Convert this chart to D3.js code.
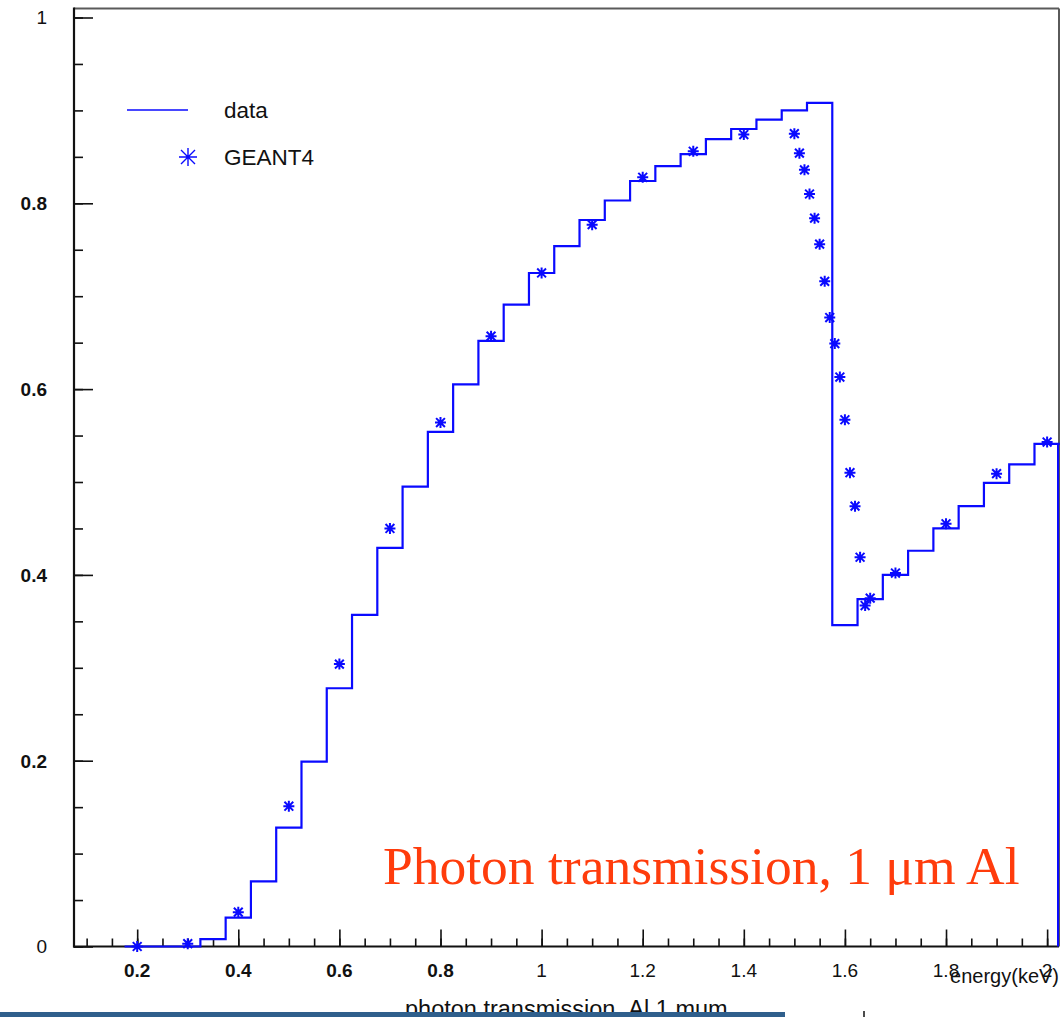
<!DOCTYPE html>
<html>
<head>
<meta charset="utf-8">
<script src="https://cdn.jsdelivr.net/npm/d3@7"></script>
<style>
  html, body { margin: 0; padding: 0; background: #ffffff; }
  svg { display: block; }
</style>
</head>
<body>
<svg id="chart" width="1061" height="1017"></svg>
<script>
// ---- data ----
const binCenters = [0.20,0.25,0.30,0.35,0.40,0.45,0.50,0.55,0.60,0.65,0.70,0.75,0.80,0.85,0.90,0.95,1.00,1.05,1.10,1.15,1.20,1.25,1.30,1.35,1.40,1.45,1.50,1.55,1.60,1.65,1.70,1.75,1.80,1.85,1.90,1.95,2.00];
const dataValues = [0,0,0,0.008,0.031,0.070,0.128,0.199,0.278,0.357,0.429,0.495,0.554,0.605,0.652,0.691,0.725,0.754,0.782,0.803,0.824,0.840,0.853,0.869,0.880,0.890,0.900,0.908,0.346,0.374,0.400,0.426,0.450,0.474,0.499,0.519,0.541];
const binWidth = 0.05;

const g4Energy = [0.2,0.3,0.4,0.5,0.6,0.7,0.8,0.9,1.0,1.1,1.2,1.3,1.4,1.50,1.51,1.52,1.53,1.54,1.55,1.56,1.57,1.58,1.59,1.60,1.61,1.62,1.63,1.64,1.65,1.7,1.8,1.9,2.0];
const g4Values = [0.0,0.003,0.037,0.151,0.304,0.450,0.564,0.657,0.725,0.777,0.828,0.856,0.874,0.875,0.854,0.836,0.810,0.784,0.756,0.716,0.677,0.649,0.613,0.567,0.510,0.474,0.419,0.367,0.375,0.402,0.455,0.509,0.543];

const xTickValues = [0.2,0.4,0.6,0.8,1.0,1.2,1.4,1.6,1.8,2.0];
const xTickLabels = ["0.2","0.4","0.6","0.8","1","1.2","1.4","1.6","1.8","2"];
const xMinorTicks = d3.range(0.1, 2.001, 0.05).map(v => +v.toFixed(2));
const yTickValues = [0,0.2,0.4,0.6,0.8,1.0];
const yTickLabels = ["0","0.2","0.4","0.6","0.8","1"];
const yMinorTicks = d3.range(0, 1.001, 0.05).map(v => +v.toFixed(2));

const legendLabels = ["data", "GEANT4"];
const xAxisTitle = "energy(keV)";
const bottomCaption = "photon transmission ,Al 1 mum";
const overlayTitle = "Photon transmission, 1 \u03BCm Al";

// ---- layout ----
const svg = d3.select("#chart");
const frame = { left: 74, right: 1059, top: 8.5, bottom: 946.5 };
const x = d3.scaleLinear().domain([0.075, 2.0235]).range([frame.left, frame.right]);
const y = d3.scaleLinear().domain([0, 1]).range([946.5, 17.5]);
const blue = "#0a0aff";
const sans = "'Liberation Sans', Arial, sans-serif";

// frame (top/right grey)
svg.append("line").attr("x1", frame.left).attr("x2", frame.right).attr("y1", frame.top).attr("y2", frame.top)
  .attr("stroke", "#5a5a5a").attr("stroke-width", 2);
svg.append("line").attr("x1", frame.right).attr("x2", frame.right).attr("y1", frame.top).attr("y2", frame.bottom)
  .attr("stroke", "#5a5a5a").attr("stroke-width", 2);

// ---- y axis (ticks pointing inwards) ----
const yAxisMinor = d3.axisRight(y).tickValues(yMinorTicks).tickSize(9).tickFormat("");
const yAxisMajor = d3.axisRight(y).tickValues(yTickValues).tickSize(19).tickFormat("");
const gyMinor = svg.append("g").attr("transform", `translate(${frame.left},0)`).call(yAxisMinor);
const gyMajor = svg.append("g").attr("transform", `translate(${frame.left},0)`).call(yAxisMajor);
[gyMinor, gyMajor].forEach(g => {
  g.select(".domain").remove();
  g.selectAll(".tick line").attr("stroke", "#111").attr("stroke-width", 1.6);
});
svg.append("line").attr("x1", frame.left).attr("x2", frame.left).attr("y1", frame.top - 1).attr("y2", frame.bottom + 1)
  .attr("stroke", "#111").attr("stroke-width", 2.2);

svg.append("g").selectAll("text").data(yTickValues).join("text")
  .attr("x", 47).attr("y", d => y(d)).attr("dy", "0.36em")
  .attr("text-anchor", "end")
  .attr("font-family", sans)
  .attr("font-size", 19)
  .attr("font-weight", (d, i) => yTickLabels[i].startsWith("0.") ? "bold" : "normal")
  .attr("fill", "#111")
  .text((d, i) => yTickLabels[i]);

// ---- x axis (ticks pointing upwards) ----
const xAxisMinor = d3.axisTop(x).tickValues(xMinorTicks).tickSize(8).tickFormat("");
const xAxisMajor = d3.axisTop(x).tickValues(xTickValues).tickSize(17).tickFormat("");
const gxMinor = svg.append("g").attr("transform", `translate(0,${frame.bottom})`).call(xAxisMinor);
const gxMajor = svg.append("g").attr("transform", `translate(0,${frame.bottom})`).call(xAxisMajor);
[gxMinor, gxMajor].forEach(g => {
  g.select(".domain").remove();
  g.selectAll(".tick line").attr("stroke", "#111").attr("stroke-width", 1.6);
});
svg.append("line").attr("x1", frame.left - 1).attr("x2", frame.right).attr("y1", frame.bottom).attr("y2", frame.bottom)
  .attr("stroke", "#111").attr("stroke-width", 2.2);

svg.append("g").selectAll("text").data(xTickValues).join("text")
  .attr("x", d => x(d)).attr("y", 977)
  .attr("text-anchor", "middle")
  .attr("font-family", sans)
  .attr("font-size", 19)
  .attr("font-weight", (d, i) => xTickLabels[i].startsWith("0.") ? "bold" : "normal")
  .attr("fill", "#111")
  .text((d, i) => xTickLabels[i]);

svg.append("text")
  .attr("x", 1059).attr("y", 983)
  .attr("text-anchor", "end")
  .attr("font-family", sans)
  .attr("font-size", 20)
  .attr("fill", "#111")
  .text(xAxisTitle);

// ---- data histogram (step line) ----
const stepPts = [];
binCenters.forEach((c, i) => {
  stepPts.push([c - binWidth / 2, dataValues[i]]);
  stepPts.push([c + binWidth / 2, dataValues[i]]);
});
svg.append("clipPath").attr("id", "plotclip").append("rect")
  .attr("x", frame.left).attr("y", frame.top).attr("width", frame.right - frame.left + 1).attr("height", frame.bottom - frame.top + 2);
const line = d3.line().x(d => x(d[0])).y(d => y(d[1]));
svg.append("path")
  .datum(stepPts)
  .attr("d", line)
  .attr("clip-path", "url(#plotclip)")
  .attr("fill", "none")
  .attr("stroke", blue)
  .attr("stroke-width", 2.2)
  .attr("stroke-linejoin", "miter");
// right edge drop of the last bin
svg.append("line")
  .attr("x1", x(2.0235) - 1).attr("x2", x(2.0235) - 1)
  .attr("y1", y(dataValues[dataValues.length - 1])).attr("y2", frame.bottom)
  .attr("stroke", blue).attr("stroke-width", 2);

// ---- GEANT4 asterisk markers ----
function asterisk(s) {
  const d = s * 0.8;
  return `M${-s},0H${s}M0,${-s}V${s}M${-d},${-d}L${d},${d}M${-d},${d}L${d},${-d}`;
}
svg.append("g").selectAll("path").data(g4Energy).join("path")
  .attr("transform", (d, i) => `translate(${x(d)},${y(g4Values[i])})`)
  .attr("d", asterisk(5.5))
  .attr("fill", "none")
  .attr("stroke", blue)
  .attr("stroke-width", 2);

// ---- legend ----
svg.append("line").attr("x1", 127).attr("x2", 188).attr("y1", 110).attr("y2", 110)
  .attr("stroke", blue).attr("stroke-width", 1.3);
svg.append("path").attr("transform", "translate(188,157)")
  .attr("d", `M-9,0H9M0,-9V9M-7,-7L7,7M-7,7L7,-7`)
  .attr("fill", "none").attr("stroke", blue).attr("stroke-width", 1.4);
svg.append("g").selectAll("text").data(legendLabels).join("text")
  .attr("x", 224).attr("y", (d, i) => i === 0 ? 118 : 165)
  .attr("font-family", sans)
  .attr("font-size", 22.5)
  .attr("fill", "#111")
  .text(d => d);

// ---- overlay red title ----
svg.append("text")
  .attr("x", 383).attr("y", 884)
  .attr("font-family", "'Liberation Serif', 'Times New Roman', serif")
  .attr("font-size", 53.5)
  .attr("fill", "#ff3c0c")
  .text(overlayTitle);

// ---- bottom caption, partly hidden by a slide bar ----
svg.append("text")
  .attr("x", 405).attr("y", 1017)
  .attr("font-family", sans)
  .attr("font-size", 23.5)
  .attr("fill", "#111")
  .text(bottomCaption);
svg.append("rect").attr("x", 0).attr("y", 1012).attr("width", 785).attr("height", 5).attr("fill", "#2f5f8c");
svg.append("rect").attr("x", 785).attr("y", 1012).attr("width", 276).attr("height", 5).attr("fill", "#ffffff");
svg.append("line").attr("x1", 864).attr("x2", 864).attr("y1", 1011).attr("y2", 1017)
  .attr("stroke", "#111").attr("stroke-width", 1.5);
</script>
</body>
</html>
